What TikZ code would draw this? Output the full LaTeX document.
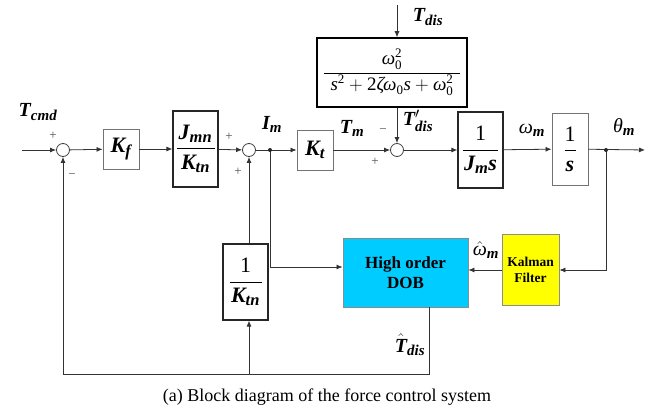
\documentclass[tikz,border=0pt]{standalone}
\usepackage{fix-cm}
\usepackage{amsmath}
\usepackage{fontspec}
\setmainfont{Liberation Serif}
\usetikzlibrary{arrows.meta,calc}
\DeclareMathSizes{20}{20}{15}{11}
\DeclareMathSizes{22}{22}{16.5}{12}
\DeclareMathSizes{19}{19}{13}{10}
\newcommand{\bi}[1]{\text{\bfseries\itshape #1}}
\newcommand{\ii}[1]{\text{\mdseries\itshape #1}}
\newcommand{\rr}[1]{\text{\mdseries\upshape #1}}
\definecolor{dobcol}{RGB}{0,204,255}
\definecolor{kalcol}{RGB}{255,255,0}
\tikzset{
  blk/.style={draw=black!55, line width=0.9pt, inner sep=0pt, font=\fontsize{22}{24}\selectfont},
  blkd/.style={blk, draw=black!85, line width=1.2pt},
  sumc/.style={circle, draw=black!75, line width=0.8pt, minimum size=13pt, inner sep=0pt, fill=white},
  arr/.style={-{Latex[length=6pt,width=5pt]}, line width=0.8pt, draw=black!80},
  ln/.style={line width=0.8pt, draw=black!80},
  lbl/.style={font=\fontsize{20}{22}\selectfont, inner sep=0pt},
  sgn/.style={font=\fontsize{13}{14}\selectfont, text=black!70, inner sep=0pt},
}
\begin{document}
\begin{tikzpicture}[x=1pt,y=-1pt]
\useasboundingbox (0,0) rectangle (657,412);
% summing junctions
\node[sumc] (s1) at (63,150) {};
\node[sumc] (s2) at (249,150) {};
\node[sumc] (s3) at (397,150) {};
% blocks
\node[blk, minimum width=36pt, minimum height=40pt] (kf) at (121,149) {$\bi{K}_{\bi{f}}$};
\node[blkd, minimum width=45pt, minimum height=76pt] (jmn) at (195.5,149)
  {$\dfrac{\makebox[38pt]{$\bi{J}_{\bi{mn}}$}}{\bi{K}_{\bi{tn}}}$};
\node[blk, minimum width=36pt, minimum height=40pt] (kt) at (315,150) {$\bi{K}_{\bi{t}}$};
\node[draw=black, line width=1.5pt, minimum width=150pt, minimum height=69pt, inner sep=0pt,
  font=\fontsize{19}{21}\selectfont] (filt) at (392,72.5)
  {$\dfrac{\ii{ω}_{\rr{0}}^{\rr{2}}}{\makebox[136pt]{$\ii{s}^{\rr{2}}+\rr{2}\ii{ζω}_{\rr{0}}\ii{s}+\ii{ω}_{\rr{0}}^{\rr{2}}$}}$};
\node[blkd, minimum width=45pt, minimum height=76pt] (jms) at (480.5,150)
  {$\dfrac{\makebox[35pt]{$\rr{1}$}}{\bi{J}_{\bi{m}}\bi{s}}$};
\node[blk, minimum width=36pt, minimum height=72pt] (invs) at (570,149)
  {$\dfrac{\rr{1}}{\bi{s}}$};
\node[blkd, minimum width=45pt, minimum height=76pt] (ktn) at (245.5,282)
  {$\dfrac{\makebox[32pt]{$\rr{1}$}}{\bi{K}_{\bi{tn}}}$};
\node[draw=black!45, line width=0.9pt, fill=dobcol, minimum width=125pt, minimum height=69pt,
  align=center, font=\fontsize{17}{20}\selectfont\bfseries] (dob) at (405.5,272.5) {High order\\DOB};
\node[draw=black!45, line width=0.9pt, fill=kalcol, minimum width=57pt, minimum height=71pt,
  align=center, font=\fontsize{13.5}{16}\selectfont\bfseries] (kal) at (530.5,270) {Kalman\\Filter};
% coordinates
\coordinate (in) at (22,150);
\coordinate (dotI) at (270,150);
\coordinate (dotT) at (606,150);
\coordinate (out) at (645,150);
\coordinate (tdtop) at (397,5);
\coordinate (dobin) at ($(dob.west)+(0,-5.5)$);
\coordinate (dobout) at ($(dob.south)+(23.5,0)$);
\coordinate (bl) at (63,374);
\coordinate (bm) at (249,374);
% connectors
\draw[arr] (in) -- (s1);
\draw[arr] (s1) -- (kf);
\draw[arr] (kf) -- (jmn);
\draw[arr] (jmn) -- (s2);
\draw[ln] (s2) -- (dotI);
\draw[arr] (dotI) -- (kt);
\draw[arr] (kt) -- (s3);
\draw[arr] (s3) -- (jms);
\draw[arr] (jms) -- (invs);
\draw[arr] (invs) -- (out);
\draw[arr] (tdtop) -- (tdtop |- filt.north);
\draw[arr] (s3 |- filt.south) -- (s3);
\draw[arr] (dotT) |- (kal.east);
\draw[arr] (kal.west) -- (dob.east |- kal.west);
\draw[arr] (dotI) |- (dobin);
\draw[ln] (dobout) |- (bl);
\draw[arr] (bl) -- (s1);
\draw[arr] (bm) -- (bm |- ktn.south);
\draw[arr] (s2 |- ktn.north) -- (s2);
\fill[black!85] (dotI) circle (2);
\fill[black!85] (dotT) circle (2);
% labels
\node[lbl] (lcmd) at (38,112) {$\bi{T}_{\bi{cmd}}$};
\node[sgn] (p1) at (53,136) {+};
\node[sgn] (m1) at (72,176) {−};
\node[sgn] (p2) at (229,137) {+};
\node[sgn] (p3) at (238,172) {+};
\node[lbl] (lim) at (272,124) {$\bi{I}_{\bi{m}}$};
\node[lbl] (ltm) at (352,128) {$\bi{T}_{\bi{m}}$};
\node[sgn] (m3) at (383,131) {−};
\node[sgn] (p4) at (375,162) {+};
\node[lbl] (ltd) at (428,17) {$\bi{T}_{\bi{dis}}$};
\node[lbl] (ltdp) at (418,121) {$\bi{T}'_{\bi{dis}}$};
\node[lbl] (lwm) at (532,130) {$\ii{ω}_{\bi{m}}$};
\node[lbl] (lth) at (624,127) {$\ii{θ}_{\bi{m}}$};
\node[lbl] (lwh) at (486,250) {$\hat{\ii{ω}}_{\bi{m}}$};
\node[lbl] (lth2) at (410,345) {$\hat{\bi{T}}_{\bi{dis}}$};
\node[font=\fontsize{18}{20}\selectfont, inner sep=0pt] (cap) at (327,397) {(a) Block diagram of the force control system};
\end{tikzpicture}
\end{document}
